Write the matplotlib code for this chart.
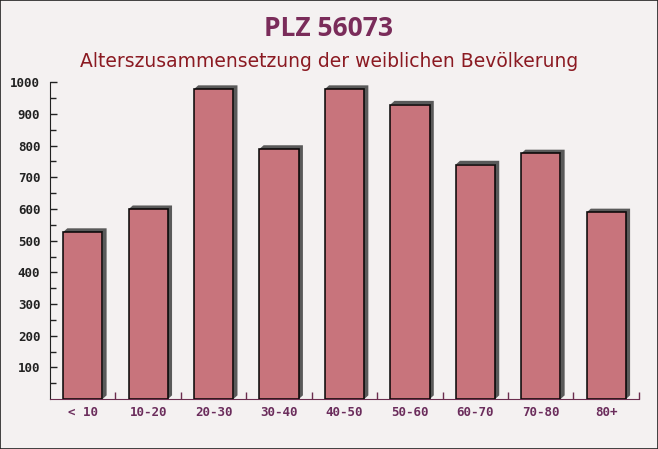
import numpy as np
import matplotlib.pyplot as plt
from matplotlib.patches import Polygon, Rectangle

# Daten
groups = ['< 10', '10-20', '20-30', '30-40', '40-50', '50-60', '60-70', '70-80', '80+']
values = [527, 599, 978, 789, 978, 929, 740, 775, 589]

fig = plt.figure(figsize=(6.58, 4.49), dpi=100)
fig.patch.set_facecolor('#f4f1f1')
fig.add_artist(Rectangle((0, 0), 1, 1, transform=fig.transFigure, fill=False,
                         edgecolor='#222222', linewidth=1.2))

ax = fig.add_axes([0.076, 0.111, 0.895, 0.706])
ax.set_facecolor('none')

x = np.arange(len(groups))
w = 0.6
dx = 0.065   # Schatten nach rechts
dy = 12.0    # Schatten nach oben

for xi, v in zip(x, values):
    l, r = xi - w / 2, xi + w / 2
    shadow = Polygon([(l, v), (l + dx, v + dy), (r + dx, v + dy), (r + dx, dy),
                      (r, 0), (r, v)], closed=True, facecolor='#5a5a5a',
                     edgecolor='none', zorder=2)
    ax.add_patch(shadow)

ax.bar(x, values, width=w, color='#c4666f', alpha=0.9, edgecolor='black',
       linewidth=1.2, zorder=3)

ax.set_xlim(-0.5, len(groups) - 0.5)
ax.set_ylim(0, 1000)

ax.spines['top'].set_visible(False)
ax.spines['right'].set_visible(False)
ax.spines['left'].set_color('#222222')
ax.spines['bottom'].set_color('#6b2d4e')

ax.set_yticks(np.arange(100, 1001, 100))
ax.set_yticks(np.arange(50, 1000, 100), minor=True)
ax.tick_params(axis='y', direction='in', length=5, width=1, color='#222222',
               labelsize=9, labelcolor='#222222', pad=7)
ax.tick_params(axis='y', which='minor', direction='in', length=4, width=1, color='#222222')
ax.set_yticklabels([str(t) for t in range(100, 1001, 100)],
                   family='DejaVu Sans Mono', fontweight='bold')

ax.set_xticks(x)
ax.set_xticklabels(groups, family='DejaVu Sans Mono', fontweight='bold')
ax.tick_params(axis='x', which='major', length=0, labelsize=9, labelcolor='#6b2d5c', pad=5)
ax.set_xticks(np.arange(0.5, len(groups), 1), minor=True)
ax.tick_params(axis='x', which='minor', direction='in', length=5, width=1, color='#6b2d4e')

fig.text(0.5, 0.937, 'PLZ 56073', ha='center', va='center', fontsize=19,
         fontweight='bold', family='Open Sans', color='#7a2c5a')
fig.text(0.5, 0.862, 'Alterszusammensetzung der weiblichen Bevölkerung', ha='center',
         va='center', fontsize=13.5, color='#8b1a22')

fig.savefig('out.png', dpi=100, facecolor=fig.get_facecolor())
